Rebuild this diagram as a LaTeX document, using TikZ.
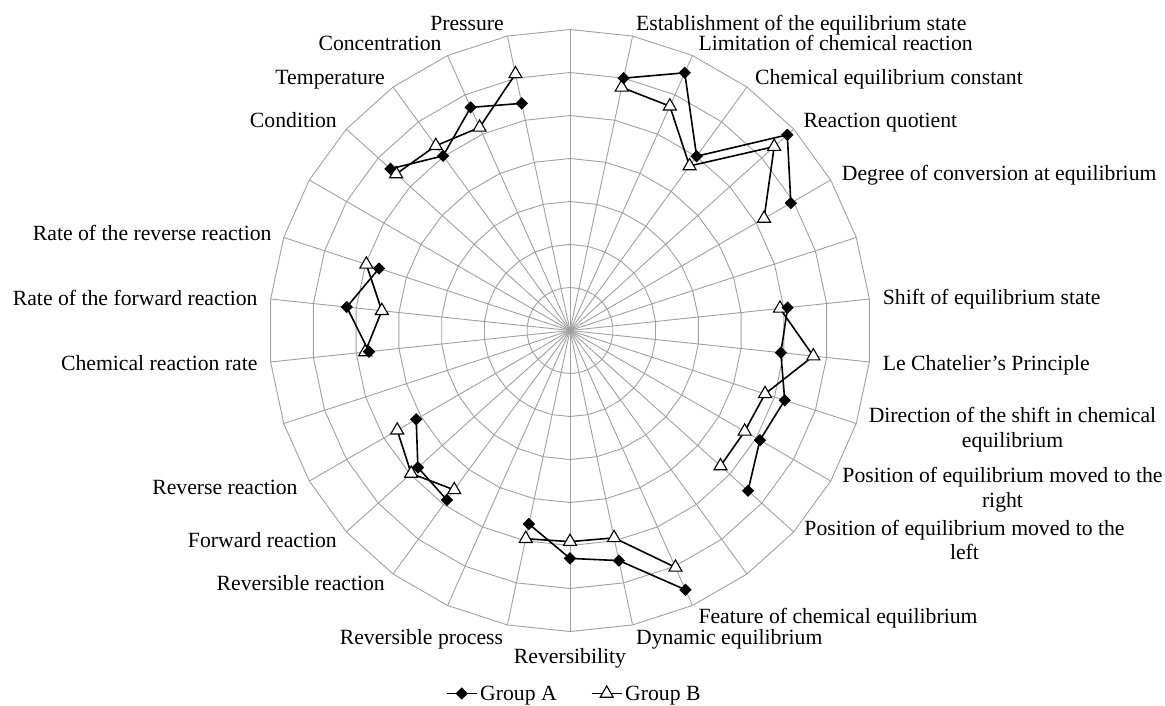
\documentclass[tikz,border=0pt]{standalone}
\usepackage{fontspec}
\setmainfont{Liberation Serif}
\usetikzlibrary{shapes.geometric}
\definecolor{gridc}{RGB}{160,160,160}
\begin{document}
\begin{tikzpicture}[x=1pt,y=-1pt,
  gridline/.style={draw=gridc, line width=0.9pt},
  serline/.style={draw=black, line width=1.6pt, line join=round},
  dmark/.style={diamond, fill=black, inner sep=0pt, minimum width=12.5pt, minimum height=12.5pt},
  tmark/.style={regular polygon, regular polygon sides=3, draw=black, fill=white, line width=1.1pt, inner sep=0pt, minimum size=15pt},
  lab/.style={inner sep=0pt, font=\fontsize{21.7}{25}\selectfont},
  labw/.style={lab, anchor=base west},
  labe/.style={lab, anchor=base east},
  labc/.style={lab, anchor=base},
]
\useasboundingbox (0,0) rectangle (1165,705);
\coordinate (C) at (570,330.5);
% spokes
\foreach \i in {0,...,29}
  \draw[gridline] (C) -- ({570+301*sin(12*\i)},{330.5-301*cos(12*\i)});
% rings
\foreach \k in {1,...,7} {
  \pgfmathsetmacro\rr{43*\k}
  \draw[gridline] (570,{330.5-\rr}) \foreach \t in {12,24,...,348} { -- ({570+\rr*sin(\t)},{330.5-\rr*cos(\t)}) } -- cycle;
}
% data points
\foreach \t/\v in {12/6.00,24/6.56,36/5.01,48/6.80,60/5.93,
                   84/5.09,96/4.93,108/5.25,120/5.10,132/5.57,
                   156/6.60,168/5.47,180/5.30,192/4.60,
                   216/4.87,228/4.76,240/4.13,
                   264/4.70,276/5.22,288/4.67,
                   312/5.62,324/5.02,336/5.68,348/5.40}
  \coordinate (a\t) at ({570+43*\v*sin(\t)},{330.5-43*\v*cos(\t)});
\foreach \t/\v in {12/5.78,24/5.71,36/4.73,48/6.39,60/5.21,
                   84/4.91,96/5.69,108/4.77,120/4.69,132/4.71,
                   156/6.03,168/4.93,180/4.91,192/4.95,
                   216/4.58,228/4.97,240/4.64,
                   264/4.79,276/4.40,288/4.98,
                   312/5.44,324/5.31,336/5.17,348/6.10}
  \coordinate (b\t) at ({570+43*\v*sin(\t)},{330.5-43*\v*cos(\t)});
% Group B
\draw[serline] (b12)--(b24)--(b36)--(b48)--(b60);
\draw[serline] (b84)--(b96)--(b108)--(b120)--(b132);
\draw[serline] (b156)--(b168)--(b180)--(b192);
\draw[serline] (b216)--(b228)--(b240);
\draw[serline] (b264)--(b276)--(b288);
\draw[serline] (b312)--(b324)--(b336)--(b348);
\foreach \t in {12,24,36,48,60,84,96,108,120,132,156,168,180,192,216,228,240,264,276,288,312,324,336,348}
  \node[tmark] (mb\t) at (b\t) {};
% Group A
\draw[serline] (a12)--(a24)--(a36)--(a48)--(a60);
\draw[serline] (a84)--(a96)--(a108)--(a120)--(a132);
\draw[serline] (a156)--(a168)--(a180)--(a192);
\draw[serline] (a216)--(a228)--(a240);
\draw[serline] (a264)--(a276)--(a288);
\draw[serline] (a312)--(a324)--(a336)--(a348);
\foreach \t in {12,24,36,48,60,84,96,108,120,132,156,168,180,192,216,228,240,264,276,288,312,324,336,348}
  \node[dmark] (ma\t) at (a\t) {};
% labels right
\node[labw] (l12) at (636,30.7) {Establishment of the equilibrium state};
\node[labw] (l24) at (698.3,50.7) {Limitation of chemical reaction};
\node[labw] (l36) at (755,84) {Chemical equilibrium constant};
\node[labw] (l48) at (803.3,127) {Reaction quotient};
\node[labw] (l60) at (841.7,180.3) {Degree of conversion at equilibrium};
\node[labw] (l84) at (882.7,304.7) {Shift of equilibrium state};
\node[labw] (l96) at (882.7,370.3) {Le Chatelier’s Principle};
\node[labc] (l108a) at (1012.5,422) {Direction of the shift in chemical};
\node[labc] (l108b) at (1012.5,447) {equilibrium};
\node[labc] (l120a) at (1002.5,482) {Position of equilibrium moved to the};
\node[labc] (l120b) at (1002.5,507) {right};
\node[labc] (l132a) at (964.5,535.3) {Position of equilibrium moved to the};
\node[labc] (l132b) at (964.5,559.7) {left};
\node[labw] (l156) at (698.3,623.7) {Feature of chemical equilibrium};
\node[labw] (l168) at (636,644.3) {Dynamic equilibrium};
\node[labc] (l180) at (570,663.7) {Reversibility};
% labels left
\node[labe] (l192) at (503.3,644.3) {Reversible process};
\node[labe] (l216) at (385,590) {Reversible reaction};
\node[labe] (l228) at (337,547) {Forward reaction};
\node[labe] (l240) at (297.7,494.3) {Reverse reaction};
\node[labe] (l264) at (257.7,370.3) {Chemical reaction rate};
\node[labe] (l276) at (257.7,305.3) {Rate of the forward reaction};
\node[labe] (l288) at (271.7,240.3) {Rate of the reverse reaction};
\node[labe] (l312) at (337,127) {Condition};
\node[labe] (l324) at (385,84) {Temperature};
\node[labe] (l336) at (441.7,50.7) {Concentration};
\node[labe] (l348) at (504,30.7) {Pressure};
% legend
\coordinate (lgA1) at (446.7,693.5);
\coordinate (lgA2) at (476.7,693.5);
\coordinate (lgB1) at (591.7,693.5);
\coordinate (lgB2) at (621.7,693.5);
\draw[serline] (lgA1) -- (lgA2);
\node[dmark] (lgAm) at (461.7,693.5) {};
\draw[serline] (lgB1) -- (lgB2);
\node[tmark] (lgBm) at (606.7,693.5) {};
\node[labw] (lgAt) at (480,700) {Group A};
\node[labw] (lgBt) at (625,700) {Group B};
\end{tikzpicture}
\end{document}
